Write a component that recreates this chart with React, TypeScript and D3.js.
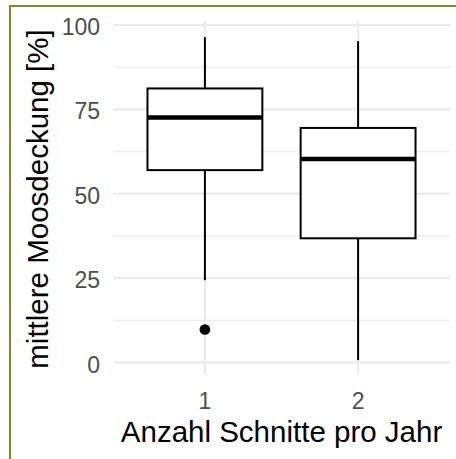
import React from "react";
import * as d3 from "d3";

const categories = ["1", "2"];
const whiskerLow = [24.4, 0.7];
const q1 = [57.0, 36.8];
const median = [72.6, 60.3];
const q3 = [81.2, 69.5];
const whiskerHigh = [96.4, 95.2];
const outlierCats = ["1"];
const outlierValues = [9.8];
const yTicks = [0, 25, 50, 75, 100];
const yMinor = [12.5, 37.5, 62.5, 87.5];
const xTitle = "Anzahl Schnitte pro Jahr";
const yTitle = "mittlere Moosdeckung [%]";

export default function App() {
  const W = 456, H = 459;
  const panel = { left: 113, right: 450, top: 21, bottom: 375 };
  const x = d3.scalePoint<string>().domain(categories).range([panel.left, panel.right]).padding(0.6);
  const y = d3.scaleLinear().domain([0, 100]).range([362.5, 25]);
  const bw = x.step() * 0.75;
  const font = "'Liberation Sans', Arial, sans-serif";
  const grid = "#EBEBEB";
  return (
    <svg width={W} height={H} style={{ position: "absolute", left: 0, top: 0, background: "#fff" }} fontFamily={font}>
      <rect x={0} y={0} width={W} height={H} fill="#fff" />
      {yMinor.map((v) => (
        <line key={"m" + v} x1={panel.left} x2={panel.right} y1={y(v)} y2={y(v)} stroke={grid} strokeWidth={1.2} />
      ))}
      {yTicks.map((v) => (
        <line key={"g" + v} x1={panel.left} x2={panel.right} y1={y(v)} y2={y(v)} stroke={grid} strokeWidth={2.2} />
      ))}
      {categories.map((c) => (
        <line key={"v" + c} x1={x(c)} x2={x(c)} y1={panel.top} y2={panel.bottom} stroke={grid} strokeWidth={2.2} />
      ))}
      {categories.map((c, i) => {
        const cx = x(c) as number;
        return (
          <g key={"b" + c}>
            <line x1={cx} x2={cx} y1={y(whiskerHigh[i])} y2={y(q3[i])} stroke="#000" strokeWidth={2} />
            <line x1={cx} x2={cx} y1={y(q1[i])} y2={y(whiskerLow[i])} stroke="#000" strokeWidth={2} />
            <rect x={cx - bw / 2} y={y(q3[i])} width={bw} height={y(q1[i]) - y(q3[i])} fill="#fff" stroke="#000" strokeWidth={2} />
            <line x1={cx - bw / 2} x2={cx + bw / 2} y1={y(median[i])} y2={y(median[i])} stroke="#000" strokeWidth={4.5} />
          </g>
        );
      })}
      {outlierValues.map((v, i) => (
        <circle key={"o" + i} cx={x(outlierCats[i])} cy={y(v)} r={5.3} fill="#000" />
      ))}
      {yTicks.map((v) => (
        <text key={"t" + v} x={100} y={y(v) + 2} textAnchor="end" dominantBaseline="central" fontSize={23} fill="#4D4D4D">
          {v}
        </text>
      ))}
      {categories.map((c) => (
        <text key={"xt" + c} x={x(c)} y={401} textAnchor="middle" dominantBaseline="central" fontSize={23} fill="#4D4D4D">
          {c}
        </text>
      ))}
      <text x={(panel.left + panel.right) / 2} y={441.5} textAnchor="middle" fontSize={29.5} fill="#000">
        {xTitle}
      </text>
      <text
        transform={`translate(48,199) rotate(-90)`}
        textAnchor="middle"
        fontSize={29.5}
        fill="#000"
      >
        {yTitle}
      </text>
      <rect x={10} y={6} width={W + 20} height={H + 20} fill="none" stroke="#7A8B2C" strokeWidth={2} />
    </svg>
  );
}
